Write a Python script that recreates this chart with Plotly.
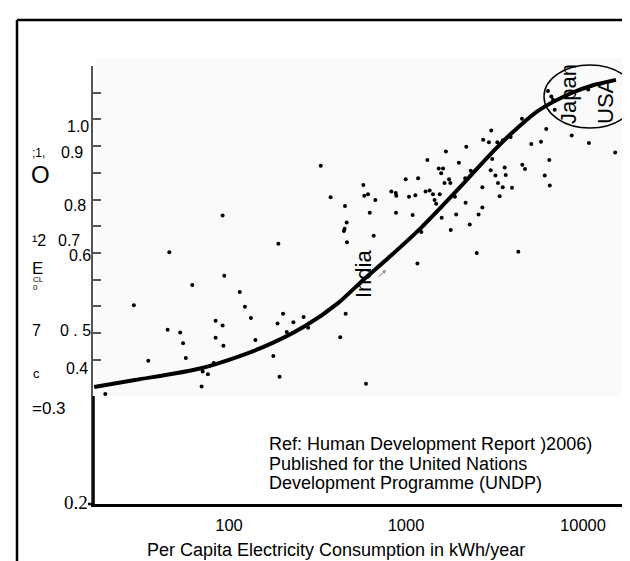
import plotly.graph_objects as go

W, H = 630, 561

# ---- data ----
kwh = [330, 375, 574, 581, 610, 671, 452, 92, 462, 450, 446, 624, 657, 464, 190, 46, 94, 62, 115, 29,
       123, 133, 202, 188, 231, 264, 280, 212, 456, 45, 53, 84, 92, 55, 84, 93, 141, 425, 57, 35,
       178, 82, 71, 76, 193, 70, 594, 20,
       4520, 3030, 6200, 8630, 10800, 15200, 2730, 2940, 3280, 3530, 3900, 5100, 5790, 2190, 1680, 1320,
       1990, 3070, 6450, 1530, 1620, 1580, 4540, 4700, 3610, 3660, 3010, 3200, 2320, 2440, 6080, 996,
       1170, 1750, 1780, 1650, 2160, 3310, 3520, 3970, 2700, 6490, 826, 875, 881, 1290, 1360, 1130,
       1040, 1420, 1550, 1890, 3380, 1450, 1480, 2170, 2700, 878, 1090, 1590, 1920, 2570, 2290, 1260,
       1220, 1790, 2510, 4310, 1160,
       6340, 6620, 6770, 10700, 6920]
hdi = [0.913, 0.854, 0.877, 0.857, 0.860, 0.849, 0.838, 0.820, 0.807, 0.795, 0.791, 0.825, 0.782, 0.770,
       0.767, 0.751, 0.707, 0.690, 0.677, 0.652, 0.649, 0.628, 0.636, 0.618, 0.620, 0.630, 0.610, 0.602,
       0.636, 0.606, 0.601, 0.623, 0.614, 0.581, 0.591, 0.576, 0.587, 0.592, 0.553, 0.548, 0.557, 0.544,
       0.528, 0.523, 0.518, 0.500, 0.505, 0.486,
       1.001, 0.979, 0.982, 0.970, 0.956, 0.938, 0.962, 0.957, 0.957, 0.961, 0.967, 0.954, 0.958, 0.949,
       0.940, 0.924, 0.919, 0.926, 0.924, 0.908, 0.908, 0.899, 0.915, 0.907, 0.910, 0.896, 0.905, 0.895,
       0.904, 0.903, 0.895, 0.888, 0.890, 0.888, 0.881, 0.881, 0.890, 0.881, 0.873, 0.872, 0.873, 0.876,
       0.865, 0.862, 0.857, 0.865, 0.867, 0.858, 0.855, 0.860, 0.860, 0.855, 0.856, 0.849, 0.842, 0.844,
       0.835, 0.825, 0.821, 0.816, 0.822, 0.822, 0.803, 0.802, 0.789, 0.793, 0.750, 0.752, 0.730,
       1.053, 1.043, 1.037, 1.056, 1.018]

trend_kwh = [17.3, 29.4, 69.5, 152, 269, 413, 571, 791, 1215, 2045, 2906, 3920, 5570, 8550, 11400, 15350]
trend_hdi = [0.499, 0.512, 0.534, 0.572, 0.613, 0.656, 0.699, 0.740, 0.797, 0.875, 0.930, 0.973,
             1.016, 1.049, 1.064, 1.074]

x_ticks = [100, 1000, 10000]
x_tick_text = ["100", "1000", "10000"]
y_ticks = [0.55, 0.60, 0.65, 0.70, 0.75, 0.80, 0.85, 0.90, 0.95, 1.00, 1.05, 1.10]

FONT = "Liberation Sans, Arial, sans-serif"


def px(x):
    return x / W


def py(y):
    return (H - y) / H


fig = go.Figure()
fig.add_trace(go.Scatter(x=kwh, y=hdi, mode="markers",
                         marker=dict(color="black", size=4), hoverinfo="skip"))
fig.add_trace(go.Scatter(x=trend_kwh, y=trend_hdi, mode="lines",
                         line=dict(color="black", width=4, shape="spline", smoothing=0.8),
                         hoverinfo="skip"))

fig.update_layout(
    width=W, height=H, margin=dict(l=0, r=0, t=0, b=0),
    paper_bgcolor="white", plot_bgcolor="rgba(0,0,0,0)", showlegend=False,
    font=dict(family=FONT, color="black"),
    xaxis=dict(type="log", range=[1.2316, 4.2994], domain=[85 / W, 628 / W],
               showgrid=False, zeroline=False, showline=True, linecolor="black", linewidth=3,
               tickvals=x_ticks, ticktext=x_tick_text, ticks="", ticklabelstandoff=4,
               tickfont=dict(size=16.5, family=FONT, color="black")),
    yaxis=dict(range=[0.2798, 1.10], domain=[py(496), py(58)],
               showgrid=False, zeroline=False, showline=True, linecolor="#555", linewidth=1.5,
               tickvals=y_ticks, ticks="inside", ticklen=8, tickwidth=1.5, tickcolor="#555",
               showticklabels=False),
)

shapes = [
    # faint scanned-inset background
    dict(type="rect", xref="paper", yref="paper", x0=px(88), x1=px(630), y0=py(388), y1=py(50),
         fillcolor="#fafafa", line=dict(width=0), layer="below"),
    # frame
    dict(type="line", xref="paper", yref="paper", x0=px(9), x1=1.0, y0=py(12), y1=py(12),
         line=dict(color="black", width=2.5)),
    dict(type="line", xref="paper", yref="paper", x0=px(9), x1=px(9), y0=0, y1=py(12),
         line=dict(color="black", width=2.5)),
    # lower black part of the y axis
    dict(type="line", xref="paper", yref="paper", x0=px(85.5), x1=px(85.5), y0=py(496), y1=py(388),
         line=dict(color="black", width=2.5)),
    # short dash joining 0.2 with the x axis
    dict(type="line", xref="paper", yref="paper", x0=px(80), x1=px(86), y0=py(496), y1=py(496),
         line=dict(color="black", width=2.5)),
    # ellipse around Japan / USA
    dict(type="circle", xref="paper", yref="paper", x0=px(536), x1=px(628), y0=py(120), y1=py(57),
         line=dict(color="black", width=1.5)),
]
fig.update_layout(shapes=shapes)

ann = []


def label(text, x, y, size=16, xanchor="right", family=FONT, angle=0):
    ann.append(dict(text=text, x=px(x), y=py(y), xref="paper", yref="paper", showarrow=False,
                    xanchor=xanchor, yanchor="middle", textangle=angle,
                    font=dict(size=size, family=family, color="black")))


# garbled scanned y labels
label("1.0", 83, 118)
label(";1,", 22, 145, size=12, xanchor="left")
label("0.9", 77, 145)
label("O", 21, 166, size=24, xanchor="left")
label("0.8", 80, 197)
label("¹2", 22, 232, xanchor="left")
label("0.7", 48, 233, xanchor="left")
label("0.6", 85, 248)
label("E", 22, 260, size=17, xanchor="left")
label("CL", 23, 271, size=8, xanchor="left")
label("0", 23, 279, size=8, xanchor="left")
label("7", 22, 322, xanchor="left")
label("0 . 5", 85, 322)
label("c", 23, 365, size=13, xanchor="left")
label("0.4", 82, 360)
label("=0.3", 22, 400, size=17, xanchor="left")
label("0.2", 82, 494, size=19, family="Liberation Serif, Times New Roman, serif")

# reference text
label("Ref: Human Development Report )2006)", 259, 436, size=18, xanchor="left")
label("Published for the United Nations", 259, 456, size=18, xanchor="left")
label("Development Programme (UNDP)", 259, 475, size=18, xanchor="left")

# x-axis title
label("Per Capita Electricity Consumption in kWh/year", 328, 542, size=18, xanchor="center")

# country labels
label("India", 355, 266, size=22, xanchor="center", angle=-90)
label("Japan", 560, 86, size=22, xanchor="center", angle=-90)
label("USA", 597, 93, size=22, xanchor="center", angle=-90)

# small gray arrow near India
ann.append(dict(text="", x=px(378), y=py(262), xref="paper", yref="paper", showarrow=True,
                ax=-9, ay=8, arrowcolor="#888", arrowwidth=1, arrowhead=2, arrowsize=0.7))

fig.update_layout(annotations=ann)

fig.write_html("out.html")
